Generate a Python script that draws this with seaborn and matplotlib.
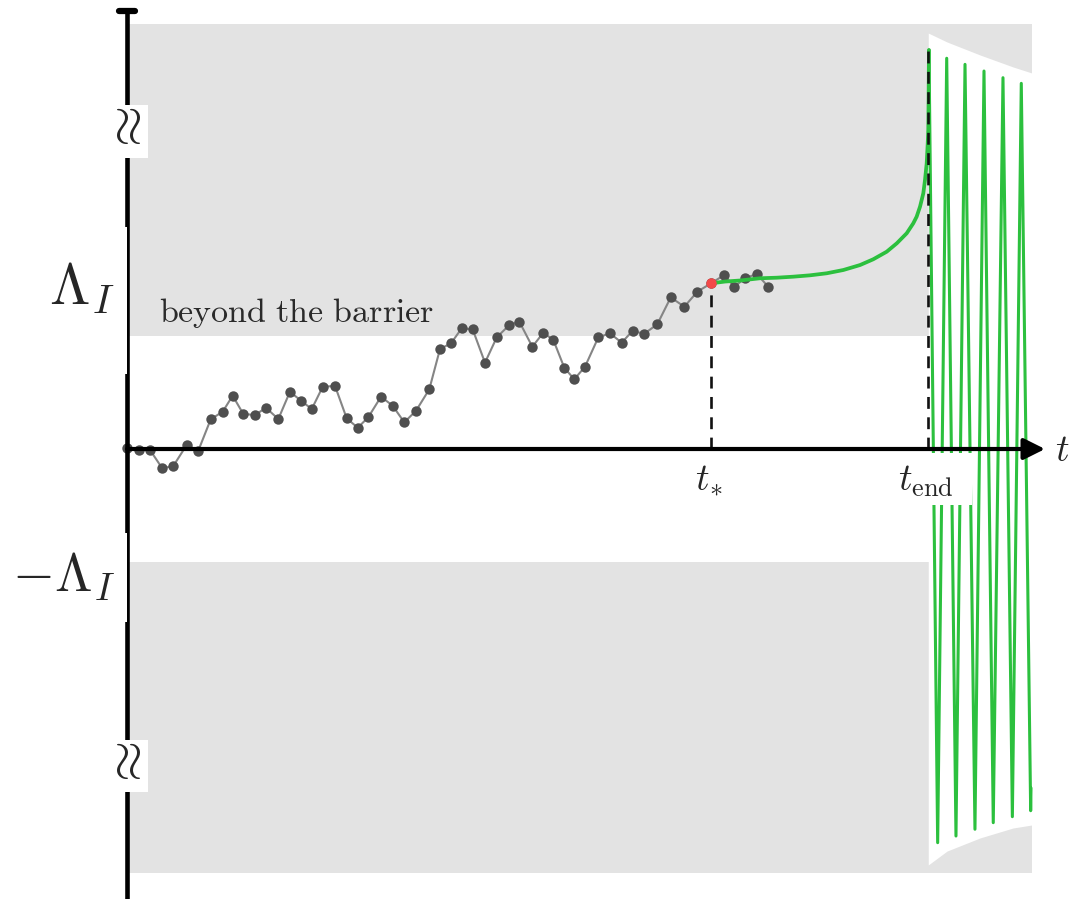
import numpy as np
import pandas as pd
import matplotlib
matplotlib.use("Agg")
import matplotlib.pyplot as plt
from matplotlib.patches import Rectangle
import seaborn as sns

# ---------------- data ----------------
walk_t = [0.00, 0.106, 0.204, 0.312, 0.410, 0.528, 0.631, 0.741, 0.847, 0.935,
          1.029, 1.133, 1.230, 1.339, 1.442, 1.540, 1.635, 1.732, 1.841, 1.944,
          2.042, 2.135, 2.248, 2.351, 2.454, 2.558, 2.675, 2.770, 2.867, 2.962,
          3.059, 3.168, 3.272, 3.383, 3.472, 3.587, 3.684, 3.773, 3.870, 3.958,
          4.053, 4.171, 4.274, 4.378, 4.475, 4.575, 4.693, 4.812, 4.932, 5.047,
          5.168, 5.286, 5.374, 5.469, 5.573, 5.675]
walk_phi = [0.010, -0.009, -0.009, -0.171, -0.150, 0.035, -0.015, 0.263, 0.330, 0.472,
            0.310, 0.301, 0.365, 0.265, 0.507, 0.427, 0.354, 0.551, 0.558, 0.272,
            0.188, 0.281, 0.463, 0.383, 0.236, 0.339, 0.528, 0.885, 0.935, 1.068,
            1.059, 0.764, 0.988, 1.097, 1.127, 0.905, 1.029, 0.965, 0.719, 0.617,
            0.728, 0.988, 1.024, 0.941, 1.047, 1.018, 1.104, 1.342, 1.259, 1.392,
            1.466, 1.540, 1.436, 1.511, 1.549, 1.436]

t_star = 5.168
phi_star = 1.466
t_end = 7.091
phi_end = 3.531
lambda_I = 1.0
band_top = 3.761
band_bottom = -3.752
band_right = 8.009

slow_roll_t = [5.168, 5.292, 5.425, 5.602, 5.750, 5.896, 6.044, 6.192, 6.339,
               6.487, 6.604, 6.723, 6.812, 6.900, 6.958, 6.988, 7.018, 7.047,
               7.062, 7.077, 7.086, 7.091, 7.094, 7.097]
slow_roll_phi = [1.466, 1.482, 1.491, 1.511, 1.516, 1.525, 1.537, 1.555, 1.584,
                 1.628, 1.679, 1.746, 1.820, 1.909, 1.997, 2.056, 2.145, 2.263,
                 2.381, 2.528, 2.705, 2.823, 3.118, 3.531]

osc_t = [7.174, 7.254, 7.336, 7.416, 7.504, 7.584, 7.666, 7.752, 7.835, 7.914,
         7.997, 8.000]
osc_phi = [-3.484, 3.458, -3.425, 3.404, -3.365, 3.345, -3.307, 3.286, -3.254,
           3.236, -3.201, -3.000]

env_t = [7.091, 7.257, 7.549, 7.841, 8.009]
env_upper = [3.681, 3.602, 3.487, 3.381, 3.327]
env_lower = [-3.681, -3.558, -3.442, -3.354, -3.327]

# ---------------- style ----------------
sns.set_theme(style="white")
plt.rcParams["mathtext.fontset"] = "cm"
plt.rcParams["font.family"] = ["DejaVu Serif", "DejaVu Sans"]

GRAY_BAND = "#e3e3e3"
GREEN = "#2cc03e"

fig = plt.figure(figsize=(10.82, 8.99), dpi=100)
ax = fig.add_axes([0, 0, 1, 1])
ax.set_xlim(-1.1239, 8.4513)
ax.set_ylim(-3.9823, 3.9735)
ax.axis("off")

# bands beyond the barrier
ax.fill_between([0, band_right], lambda_I, band_top, color=GRAY_BAND, lw=0, zorder=1)
ax.fill_between([0, band_right], band_bottom, -lambda_I, color=GRAY_BAND, lw=0, zorder=1)
# oscillation envelope (white)
ax.fill_between(env_t, env_lower, env_upper, color="white", lw=0, zorder=2)

# random walk
walk = pd.DataFrame({"t": walk_t, "phi": walk_phi})
sns.lineplot(data=walk, x="t", y="phi", sort=False, ax=ax, color="#858585",
             lw=1.5, marker="o", markersize=7.5, markerfacecolor="#4f4f4f",
             markeredgecolor="#4f4f4f", markeredgewidth=0, zorder=3)

# classical trajectory + oscillations
slow = pd.DataFrame({"t": slow_roll_t, "phi": slow_roll_phi})
sns.lineplot(data=slow, x="t", y="phi", sort=False, ax=ax, color=GREEN,
             lw=2.7, zorder=4)
osc = pd.DataFrame({"t": [slow_roll_t[-1]] + osc_t,
                    "phi": [slow_roll_phi[-1]] + osc_phi})
sns.lineplot(data=osc, x="t", y="phi", sort=False, ax=ax, color=GREEN,
             lw=2.2, zorder=4)

# dashed markers
ax.plot([t_star, t_star], [0, phi_star], ls=(0, (4.5, 3.2)), color="#111111",
        lw=1.9, zorder=4.5)
ax.plot([t_end, t_end], [0, phi_end], ls=(0, (4.5, 3.2)), color="#111111",
        lw=1.9, zorder=4.5)
ax.plot([t_star], [phi_star], "o", color="#f24848", ms=7.5, mew=0, zorder=5)

# axes
ax.plot([0, 0], [-3.99, 3.876], color="black", lw=3.3, zorder=6,
        solid_capstyle="butt")
ax.plot([-0.07, 0.07], [3.876, 3.876], color="black", lw=4.5, zorder=6,
        solid_capstyle="round")
ax.annotate("", xy=(8.124, 0), xytext=(0, 0), zorder=6,
            arrowprops=dict(arrowstyle="-|>", lw=3.0, color="black",
                            mutation_scale=32, shrinkA=0, shrinkB=0))

# white boxes behind labels
for (x0, x1, y0, y1) in [(-1.2, 0.0, 0.664, 1.965),
                         (-1.2, 0.0, -1.531, -0.743),
                         (-0.106, 0.186, 2.575, 3.044),
                         (-0.106, 0.186, -3.035, -2.575),
                         (6.708, 7.478, -0.496, -0.035)]:
    ax.add_patch(Rectangle((x0, y0), x1 - x0, y1 - y0, facecolor="white",
                           edgecolor="none", zorder=7))

# labels
ax.text(-0.398, 1.425, r"$\Lambda_I$", fontsize=42, ha="center", va="center", zorder=8)
ax.text(-0.56, -1.133, r"$-\Lambda_I$", fontsize=39, ha="center", va="center", zorder=8)
ax.text(1.5, 1.124, r"$\mathrm{beyond\ the\ barrier}$", fontsize=24.5,
        ha="center", va="baseline", color="#2a2a2a", zorder=8)
ax.text(5.146, -0.274, r"$t_{\!*}$", fontsize=27, ha="center", va="center", zorder=8)
ax.text(7.07, -0.283, r"$t_\mathrm{end}$", fontsize=27, ha="center", va="center", zorder=8)
ax.text(8.274, -0.018, r"$t$", fontsize=27, ha="center", va="center", zorder=8)
for yb in (2.81, -2.805):
    ax.text(0.0, yb, r"$\approx$", fontsize=38, rotation=90, ha="center",
            va="center", zorder=8)

fig.savefig("out.png", dpi=100)
